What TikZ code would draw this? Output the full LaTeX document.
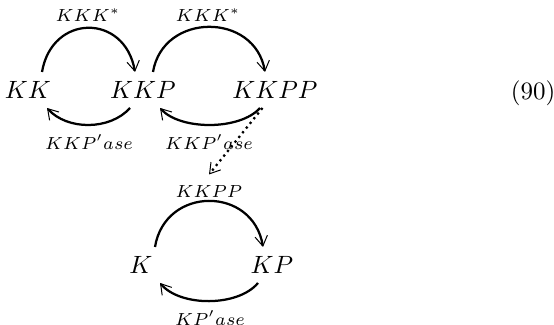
\documentclass[tikz,border=0pt]{standalone}
\usepackage{amsmath,amssymb}
\usepackage{tikz}
\usetikzlibrary{arrows.meta}

\begin{document}
\begin{tikzpicture}[x=0.4pt, y=0.4pt,
  species/.style={inner sep=0pt, minimum height=14pt},
  enzyme/.style={inner sep=0pt, font=\scriptsize},
  react/.style={line width=0.9pt, -{Straight Barb[line width=0.4pt, length=4pt, width=5pt]}},
  leak/.style={react, dash pattern=on 0.9pt off 1.5pt}]
\useasboundingbox (0,0) rectangle (554,325);

% Species of the first cascade
\node[species] (KK) at (28,235) {$KK$};
\node[species] (KKP) at (143,235) {$KKP$};
\node[species] (KKPP) at (275,235) {$KKPP$};
\node (eqno) at (533,232) {(90)};

% Species of the second cascade
\node[species] (K) at (141,60) {$K$};
\node[species] (KP) at (272,60) {$KP$};

% Enzyme labels
\node[enzyme] (kkk1) at (88,310) {$KKK^*$};
\node[enzyme] (kkk2) at (208,310) {$KKK^*$};
\node[enzyme] (ase1) at (89,183) {$KKP'ase$};
\node[enzyme] (ase2) at (209,183) {$KKP'ase$};
\node[enzyme, minimum height=13.6pt] (kkpp) at (209,133) {$KKPP$};
\node[enzyme] (ase3) at (210,7) {$KP'ase$};

% Phosphorylation arcs
\draw[react] ([xshift=5.6pt]KK.north) .. controls +(4pt,23.5pt) and +(-4pt,23.5pt) .. ([xshift=-3.2pt]KKP.north);
\draw[react] ([xshift=4pt]KKP.north) .. controls +(4pt,24pt) and +(-4pt,24pt) .. ([xshift=-4pt]KKPP.north);
\draw[react] ([xshift=5.6pt]K.north) .. controls +(4pt,24.5pt) and +(-4pt,24.5pt) .. ([xshift=-3.6pt]KP.north);

% Dephosphorylation arcs
\draw[react] ([xshift=-5.2pt]KKP.south) .. controls +(-8pt,-9pt) and +(8pt,-9pt) .. ([xshift=7.6pt]KK.south);
\draw[react] ([xshift=-6pt]KKPP.south) .. controls +(-8pt,-9pt) and +(8pt,-9pt) .. ([xshift=6.8pt]KKP.south);
\draw[react] ([xshift=-5.6pt]KP.south) .. controls +(-8pt,-9.6pt) and +(8pt,-9.6pt) .. ([xshift=7.6pt]K.south);

% KKPP acts on the second cascade
\draw[leak] ([xshift=-5pt]KKPP.south) -- (kkpp.north);
\end{tikzpicture}
\end{document}
